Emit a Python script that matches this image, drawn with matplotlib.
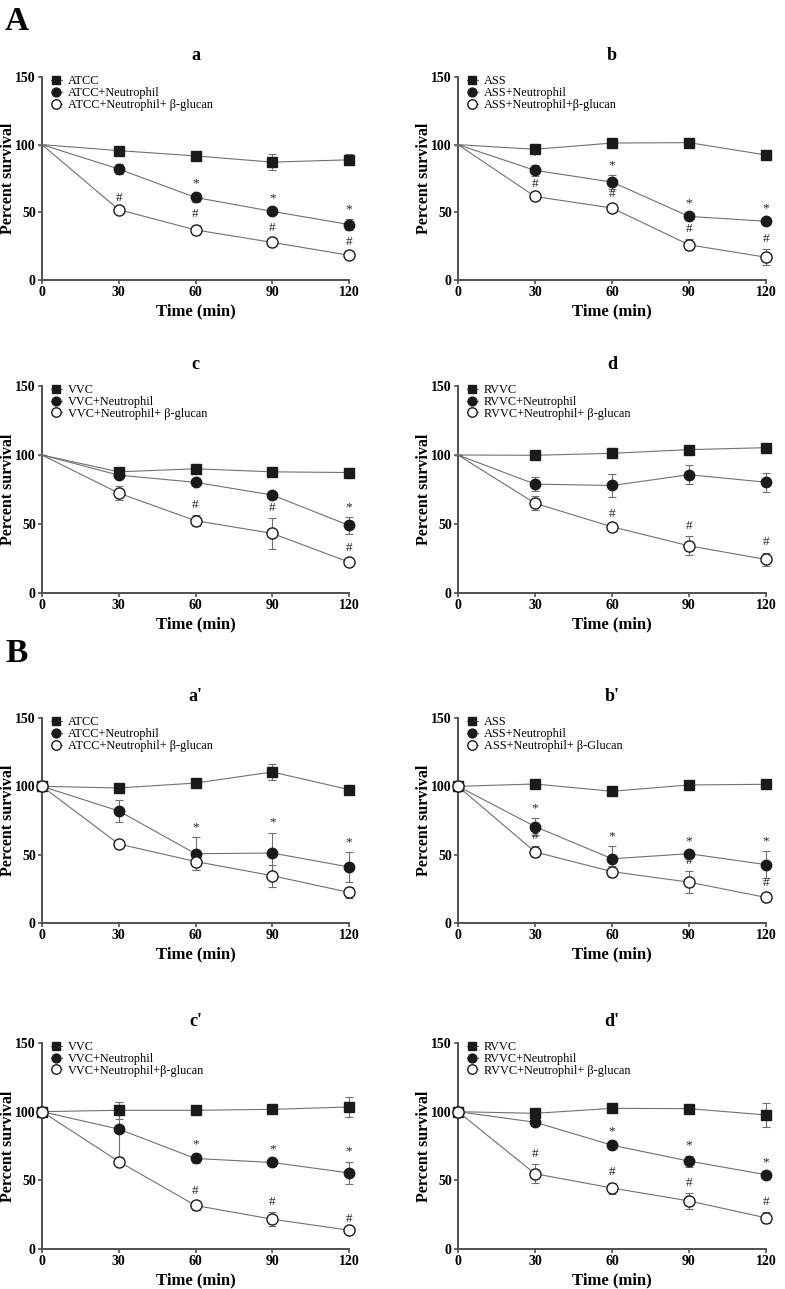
import matplotlib
matplotlib.use("Agg")
from matplotlib import pyplot as plt

plt.rcParams['font.family'] = ['Liberation Serif', 'DejaVu Serif']

time = [0, 30, 60, 90, 120]

# A-a: ATCC
a_labels = ["ATCC", "ATCC+Neutrophil", "ATCC+Neutrophil+ β-glucan"]
a_ctrl = [100, 95.6, 91.7, 87.1, 88.8]
a_ctrl_err = [0, 1.5, 2, 6, 4]
a_neut = [100, 82, 61, 50.7, 41]
a_neut_err = [0, 4, 3, 2, 4]
a_glu = [100, 52, 37, 27.8, 18.3]
a_glu_err = [0, 1, 4, 3, 2]
a_neut_sig = ["", "", "*", "*", "*"]
a_glu_sig = ["", "#", "#", "#", "#"]

# A-b: ASS
b_labels = ["ASS", "ASS+Neutrophil", "ASS+Neutrophil+β-glucan"]
b_ctrl = [100, 96.6, 101.2, 101.5, 92.4]
b_ctrl_err = [0, 1, 1, 1, 2]
b_neut = [100, 81, 72.4, 47, 43.4]
b_neut_err = [0, 4, 5, 2, 2]
b_glu = [100, 61.7, 53.2, 26, 16.8]
b_glu_err = [0, 2, 3, 4, 6]
b_neut_sig = ["", "*", "*", "*", "*"]
b_glu_sig = ["", "#", "#", "#", "#"]

# A-c: VVC
c_labels = ["VVC", "VVC+Neutrophil", "VVC+Neutrophil+ β-glucan"]
c_ctrl = [100, 87.8, 90, 87.8, 87.3]
c_ctrl_err = [0, 3, 1, 1, 3]
c_neut = [100, 85.4, 80.2, 71, 49]
c_neut_err = [0, 1, 1.5, 2, 6]
c_glu = [100, 72.4, 52.4, 43.2, 22.4]
c_glu_err = [0, 5, 4, 11, 3]
c_neut_sig = ["", "", "", "", "*"]
c_glu_sig = ["", "", "#", "#", "#"]

# A-d: RVVC
d_labels = ["RVVC", "RVVC+Neutrophil", "RVVC+Neutrophil+ β-glucan"]
d_ctrl = [100, 99.8, 101.2, 103.9, 105.3]
d_ctrl_err = [0, 1, 3, 2, 1]
d_neut = [100, 78.9, 77.9, 85.7, 80.3]
d_neut_err = [0, 5, 8, 7, 7]
d_glu = [100, 65, 48, 34.2, 24.3]
d_glu_err = [0, 5, 2, 7, 5]
d_neut_sig = ["", "", "", "", ""]
d_glu_sig = ["", "", "#", "#", "#"]

# B-a': ATCC
a2_labels = ["ATCC", "ATCC+Neutrophil", "ATCC+Neutrophil+ β-glucan"]
a2_ctrl = [100, 98.8, 102.4, 110.5, 97.6]
a2_ctrl_err = [0, 1, 2, 6, 1]
a2_neut = [100, 82, 50.7, 51.2, 41]
a2_neut_err = [0, 8, 12, 15, 11]
a2_glu = [100, 57.8, 45, 34.6, 22.4]
a2_glu_err = [0, 1, 6, 8, 4]
a2_neut_sig = ["", "", "*", "*", "*"]
a2_glu_sig = ["", "", "", "", ""]

# B-b': ASS
b2_labels = ["ASS", "ASS+Neutrophil", "ASS+Neutrophil+ β-Glucan"]
b2_ctrl = [100, 101.7, 96.4, 101, 101.5]
b2_ctrl_err = [0, 1, 3, 1, 1]
b2_neut = [100, 70.6, 47, 50.7, 42.7]
b2_neut_err = [0, 6, 9, 2, 10]
b2_glu = [100, 52, 37.6, 29.9, 18.7]
b2_glu_err = [0, 4, 4, 8, 3]
b2_neut_sig = ["", "*", "*", "*", "*"]
b2_glu_sig = ["", "#", "", "#", "#"]

# B-c': VVC
c2_labels = ["VVC", "VVC+Neutrophil", "VVC+Neutrophil+β-glucan"]
c2_ctrl = [100, 101, 101, 101.7, 103.4]
c2_ctrl_err = [0, 6, 2, 1, 7]
c2_neut = [100, 87.3, 65.9, 63, 55.4]
c2_neut_err = [0, 20, 3, 2, 8]
c2_glu = [100, 63.7, 31.7, 21.7, 13.7]
c2_glu_err = [0, 3, 3, 5, 1]
c2_neut_sig = ["", "", "*", "*", "*"]
c2_glu_sig = ["", "", "#", "#", "#"]

# B-d': RVVC
d2_labels = ["RVVC", "RVVC+Neutrophil", "RVVC+Neutrophil+ β-glucan"]
d2_ctrl = [100, 98.8, 102.4, 102.2, 97.6]
d2_ctrl_err = [0, 1, 3, 1, 9]
d2_neut = [100, 92.3, 75.6, 64, 54.1]
d2_neut_err = [0, 1, 3, 4, 2]
d2_glu = [100, 54.8, 44.4, 35, 22.7]
d2_glu_err = [0, 7, 4, 6, 4]
d2_neut_sig = ["", "", "*", "*", "*"]
d2_glu_sig = ["", "#", "#", "#", "#"]

LINE = "#707070"
SPINE = "#505050"


def draw_panel(ax, title, labels, ctrl, ctrl_err, neut, neut_err, glu, glu_err,
               neut_sig, glu_sig, zero_marker):
    styles = [
        (ctrl, ctrl_err, "s", "#1a1a1a", "#1a1a1a", 7.5),
        (neut, neut_err, "o", "#1a1a1a", "#1a1a1a", 7.5),
        (glu, glu_err, "o", "white", "#1a1a1a", 8),
    ]
    every = None if zero_marker else [1, 2, 3, 4]
    handles = []
    for (vals, errs, m, fc, ec, ms), lab in zip(styles, labels):
        ax.errorbar(time, vals, yerr=errs, fmt="none", ecolor=LINE,
                    elinewidth=0.8, capsize=3, capthick=0.8, clip_on=False, zorder=2)
        ln, = ax.plot(time, vals, color=LINE, lw=0.8, marker=m, ms=ms,
                      mfc=fc, mec=ec, mew=1.0, markevery=every,
                      clip_on=False, zorder=3, label=lab)
        handles.append(ln)
    for vals, errs, sig in [(neut, neut_err, neut_sig), (glu, glu_err, glu_sig)]:
        for x, v, e, s in zip(time, vals, errs, sig):
            if s:
                ax.text(x, v + e + 3, s, ha="center", va="bottom",
                        fontsize=9.5, color="#222222")
    ax.set_xlim(0, 120)
    ax.set_ylim(0, 150)
    ax.set_xticks(time)
    ax.set_yticks([0, 50, 100, 150])
    for sp in ["top", "right"]:
        ax.spines[sp].set_visible(False)
    for sp in ["left", "bottom"]:
        ax.spines[sp].set_color(SPINE)
        ax.spines[sp].set_linewidth(1.4)
    ax.tick_params(direction="out", length=3, width=1.2, color=SPINE,
                   labelsize=10, pad=1.5)
    for t in ax.get_xticklabels() + ax.get_yticklabels():
        t.set_fontweight("bold")
    ax.set_xlabel("Time (min)", fontsize=12, fontweight="bold", labelpad=3)
    ax.set_ylabel("Percent survival", fontsize=11.5, fontweight="bold")
    ax.yaxis.set_label_coords(-0.086, 0.5)
    ax.set_title(title, fontsize=13, fontweight="bold", pad=12)
    ax.legend(handles=handles, loc="upper left", bbox_to_anchor=(0.0, 1.05),
              frameon=False, fontsize=8.8, handlelength=0.9, handletextpad=0.5,
              labelspacing=-0.02, borderaxespad=0.3, markerscale=0.85)


fig = plt.figure(figsize=(7.85, 12.89), dpi=100)
W, H = 785.0, 1289.0


def add_ax(x0, x1, ytop, ybot):
    return fig.add_axes([x0 / W, 1 - ybot / H, (x1 - x0) / W, (ybot - ytop) / H])


xl = (42, 349)
xr = (458, 766)
rows = [(77, 280), (386, 593), (718, 923), (1043, 1249)]

panels = [
    ("a", a_labels, a_ctrl, a_ctrl_err, a_neut, a_neut_err, a_glu, a_glu_err, a_neut_sig, a_glu_sig, False),
    ("b", b_labels, b_ctrl, b_ctrl_err, b_neut, b_neut_err, b_glu, b_glu_err, b_neut_sig, b_glu_sig, False),
    ("c", c_labels, c_ctrl, c_ctrl_err, c_neut, c_neut_err, c_glu, c_glu_err, c_neut_sig, c_glu_sig, False),
    ("d", d_labels, d_ctrl, d_ctrl_err, d_neut, d_neut_err, d_glu, d_glu_err, d_neut_sig, d_glu_sig, False),
    ("a'", a2_labels, a2_ctrl, a2_ctrl_err, a2_neut, a2_neut_err, a2_glu, a2_glu_err, a2_neut_sig, a2_glu_sig, True),
    ("b'", b2_labels, b2_ctrl, b2_ctrl_err, b2_neut, b2_neut_err, b2_glu, b2_glu_err, b2_neut_sig, b2_glu_sig, True),
    ("c'", c2_labels, c2_ctrl, c2_ctrl_err, c2_neut, c2_neut_err, c2_glu, c2_glu_err, c2_neut_sig, c2_glu_sig, True),
    ("d'", d2_labels, d2_ctrl, d2_ctrl_err, d2_neut, d2_neut_err, d2_glu, d2_glu_err, d2_neut_sig, d2_glu_sig, True),
]

for i, p in enumerate(panels):
    ytop, ybot = rows[i // 2]
    x0, x1 = xl if i % 2 == 0 else xr
    ax = add_ax(x0, x1, ytop, ybot)
    draw_panel(ax, *p)

fig.text(5 / W, 1 - 30 / H, "A", fontsize=24, fontweight="bold")
fig.text(5 / W, 1 - 662 / H, "B", fontsize=24, fontweight="bold")

fig.savefig("out.png", dpi=100)
